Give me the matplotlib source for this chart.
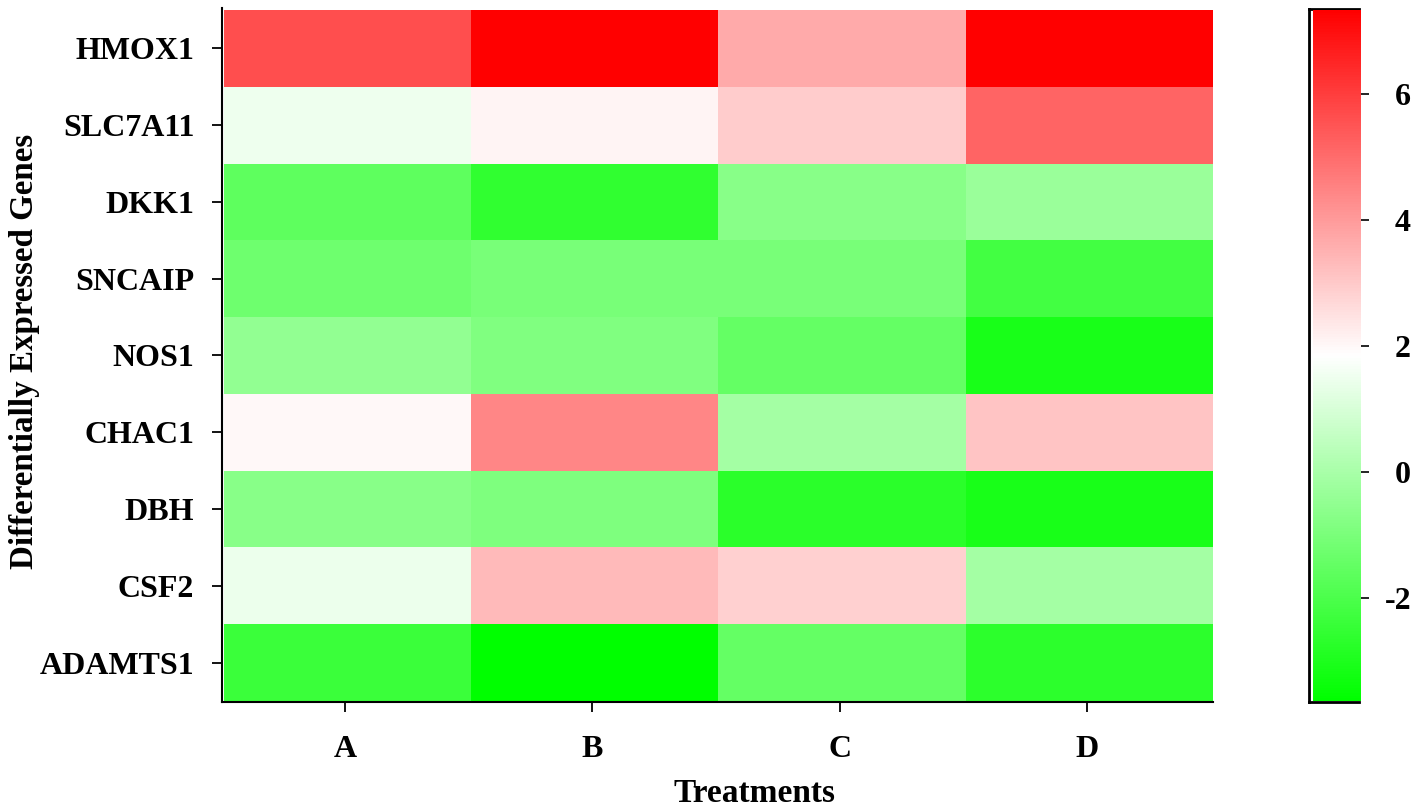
import matplotlib
matplotlib.use('Agg')
import matplotlib.pyplot as plt
from matplotlib.colors import LinearSegmentedColormap
import numpy as np

plt.rcParams['font.family'] = ['Liberation Serif', 'DejaVu Serif']
plt.rcParams['font.weight'] = 'bold'

genes = ['HMOX1', 'SLC7A11', 'DKK1', 'SNCAIP', 'NOS1', 'CHAC1', 'DBH', 'CSF2', 'ADAMTS1']
treatments = ['A', 'B', 'C', 'D']
values = np.array([
    [5.64, 7.33, 3.69, 7.33],
    [1.50, 2.07, 2.95, 5.16],
    [-1.58, -2.57, -0.68, -0.32],
    [-1.25, -1.03, -1.03, -2.20],
    [-0.50, -0.88, -1.46, -3.10],
    [2.00, 4.43, -0.10, 3.13],
    [-0.68, -0.92, -2.71, -3.10],
    [1.45, 3.32, 2.87, -0.10],
    [-2.37, -3.63, -1.46, -2.65],
])
vmin = -3.63
vmax = 7.33
cbar_ticks = [-2, 0, 2, 4, 6]
cbar_labels = ['-2', '0', '2', '4', '6']

# white sits at about 1.85 on the colour bar
mid = (1.85 - vmin) / (vmax - vmin)
cmap = LinearSegmentedColormap.from_list('gwr', [(0, '#00ff00'), (mid, '#ffffff'), (1, '#ff0000')], N=256)

W, H = 1418, 810
fig = plt.figure(figsize=(W / 100, H / 100), dpi=100)
ax = fig.add_axes([222 / W, 1 - 702 / H, (1213 - 222) / W, (702 - 8) / H])
ax.pcolormesh(values[::-1], cmap=cmap, vmin=vmin, vmax=vmax)
# small white gap between the axis lines and the cells
ax.set_xlim(-0.008, 4)
ax.set_ylim(-0.013, 9.026)

# the ticks in the original sit slightly left of the cell centres
ax.set_xticks(np.arange(len(treatments)) + 0.49)
ax.set_xticklabels(treatments, fontsize=23, fontweight='bold')
ax.set_yticks(np.arange(len(genes)) + 0.5)
ax.set_yticklabels(genes[::-1], fontsize=23, fontweight='bold')
ax.tick_params(axis='x', length=7, width=1.3, pad=17)
ax.tick_params(axis='y', length=7, width=1.3, pad=13)
ax.spines['top'].set_visible(False)
ax.spines['right'].set_visible(False)
ax.spines['left'].set_linewidth(1.5)
ax.spines['bottom'].set_linewidth(1.5)
ax.set_xlabel('Treatments', fontsize=24, fontweight='bold', labelpad=10, x=0.537)
ax.set_ylabel('Differentially Expressed Genes', fontsize=23.8, fontweight='bold', labelpad=0, y=0.505)

# frame of the colour bar, open on the right
frame = fig.add_axes([1309 / W, 1 - 702 / H, (1359 - 1309) / W, (702 - 9) / H])
frame.set_xticks([])
frame.set_yticks([])
frame.spines['right'].set_visible(False)
frame.spines['left'].set_linewidth(2)
frame.spines['top'].set_linewidth(2)
frame.spines['bottom'].set_linewidth(2)

cax = fig.add_axes([1313 / W, 1 - 701 / H, (1361 - 1313) / W, (701 - 10) / H])
sm = plt.cm.ScalarMappable(cmap=cmap, norm=plt.Normalize(vmin, vmax))
cb = fig.colorbar(sm, cax=cax)
cb.set_ticks(cbar_ticks)
cb.set_ticklabels(cbar_labels)
cb.ax.tick_params(length=6, width=1.2, labelsize=23, pad=30)
for t in cb.ax.get_yticklabels():
    t.set_ha('right')
cb.outline.set_visible(False)

fig.savefig('out.png', dpi=100)
